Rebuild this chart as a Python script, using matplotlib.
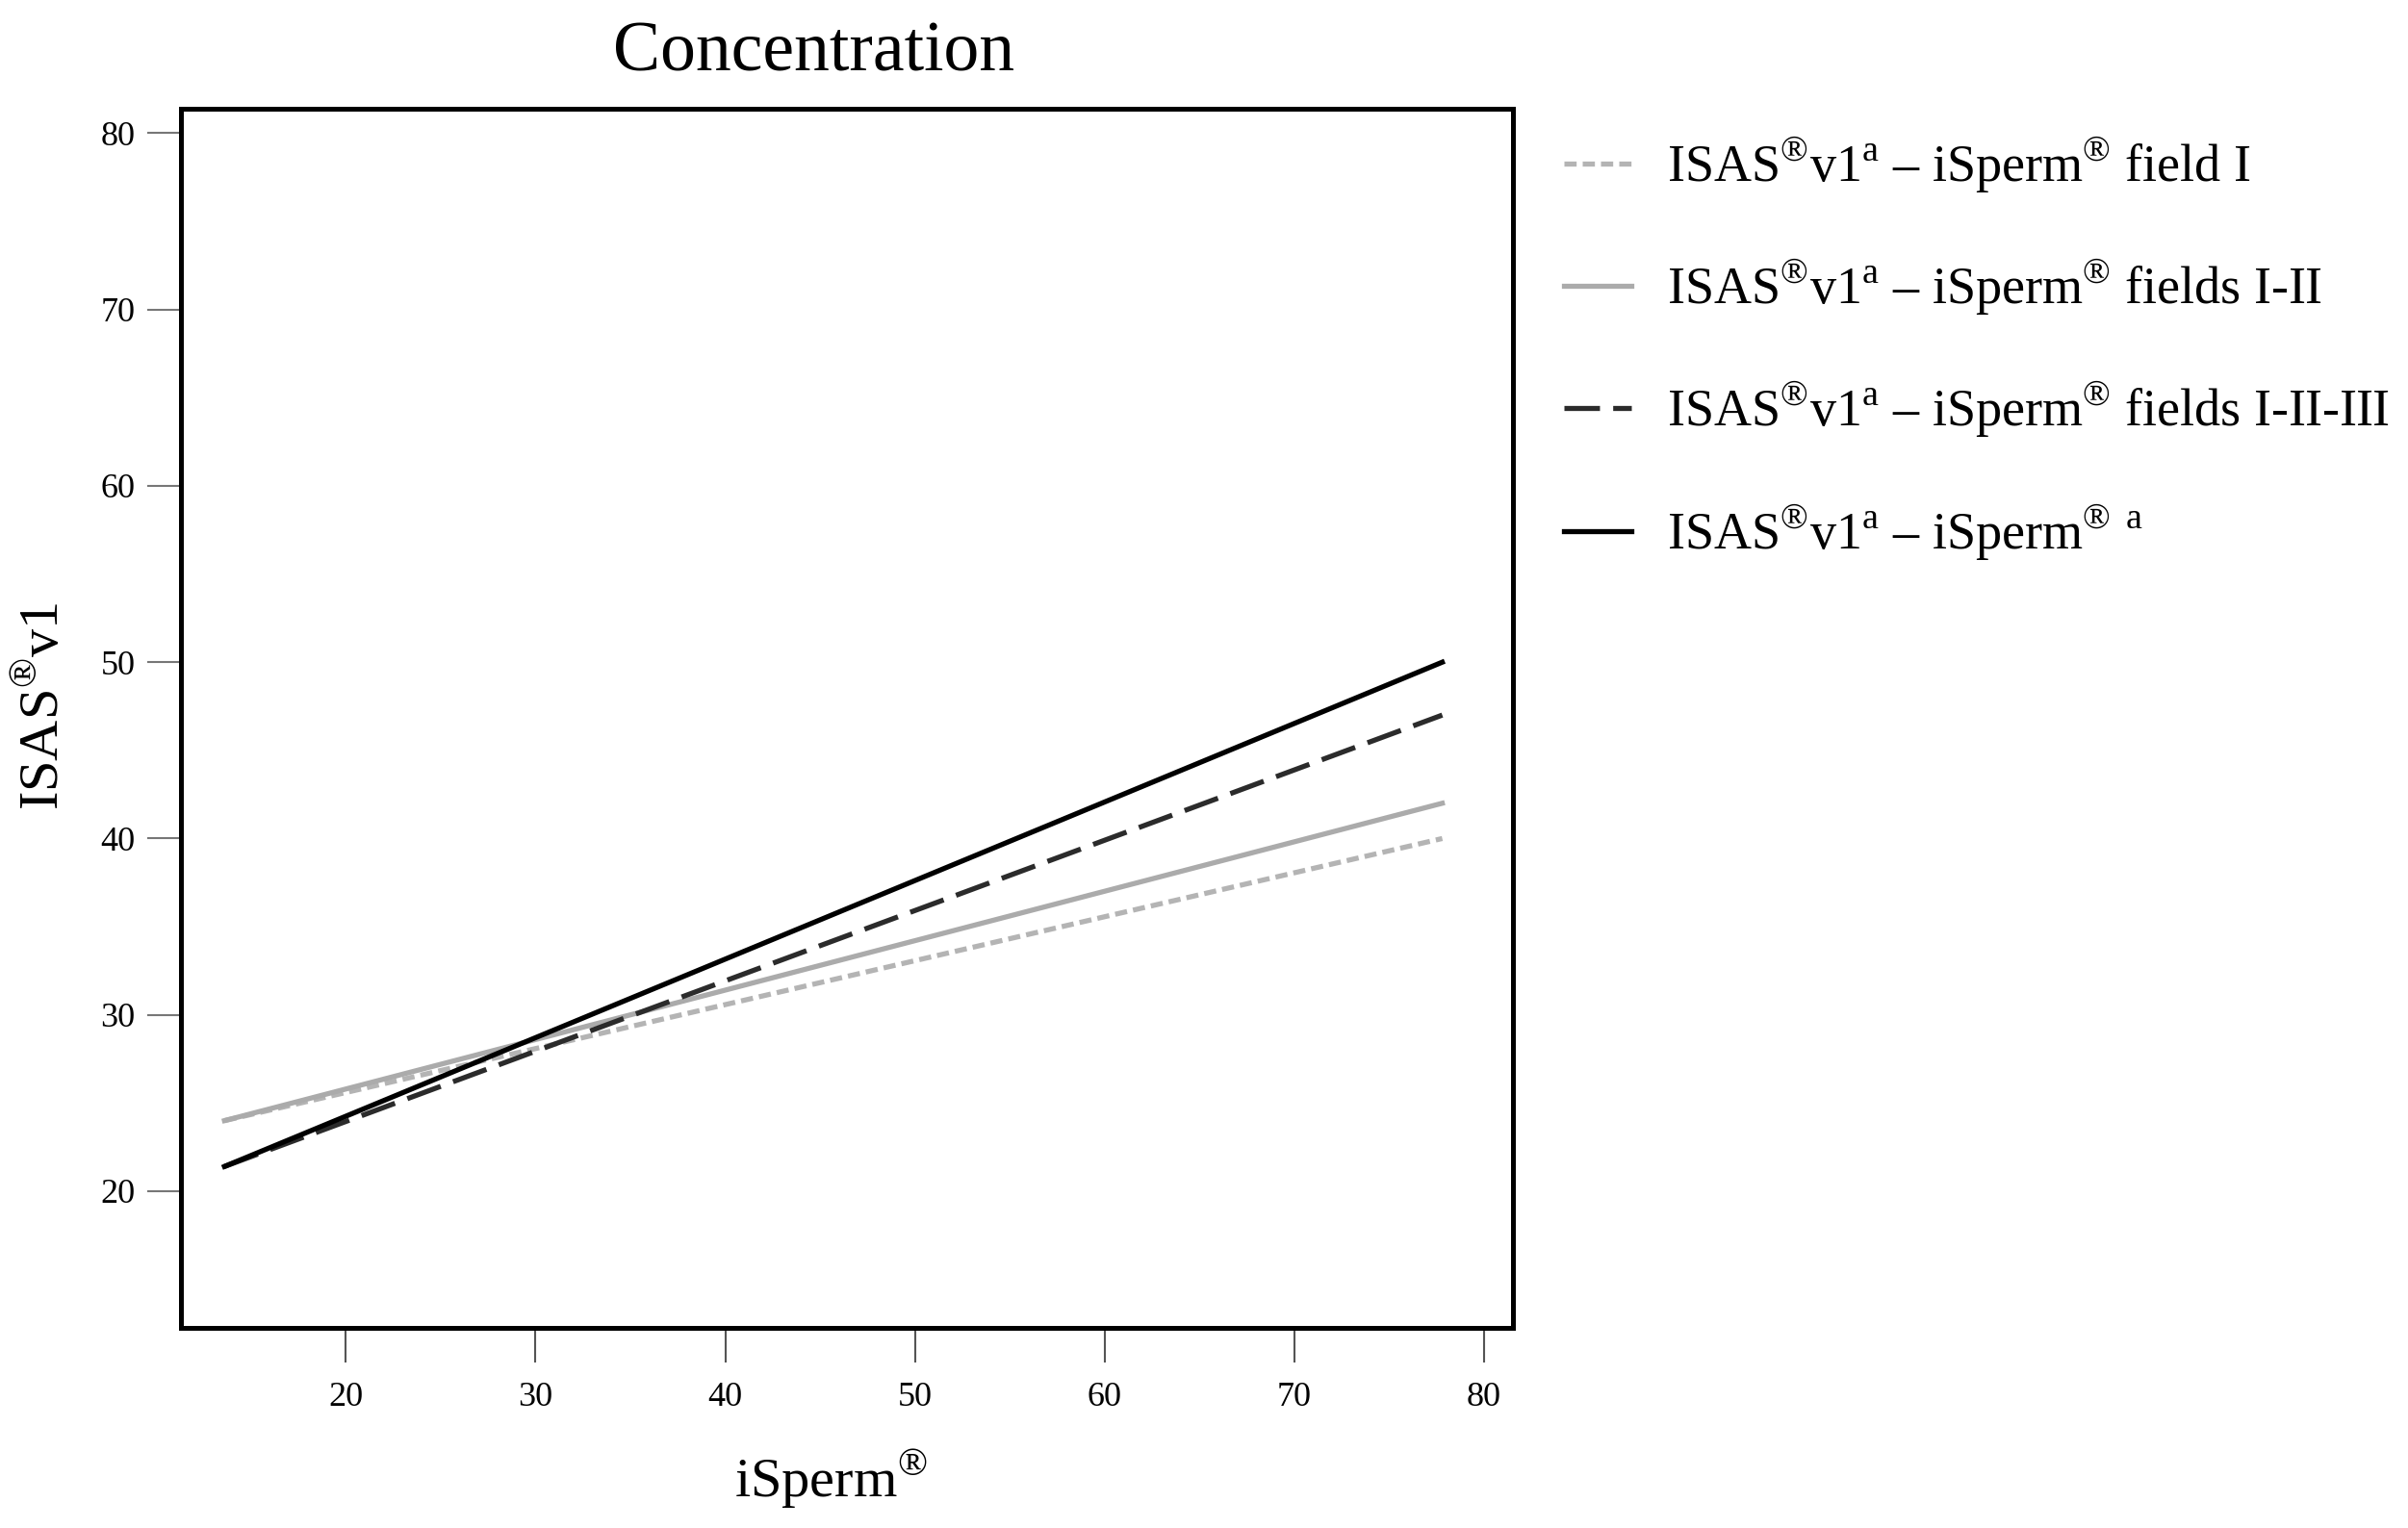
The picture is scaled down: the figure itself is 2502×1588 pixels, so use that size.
import matplotlib
matplotlib.use('Agg')
import matplotlib.pyplot as plt

plt.rcParams['font.family'] = ['Liberation Serif', 'DejaVu Serif']
plt.rcParams['mathtext.fontset'] = 'custom'
plt.rcParams['mathtext.rm'] = 'Liberation Serif'

# fitted regression lines
x_ends = [13.6, 77.8]
field_I = [24.0, 40.0]
fields_I_II = [24.0, 42.0]
fields_I_II_III = [21.4, 47.0]
isperm_a = [21.4, 50.0]

labels = [r'ISAS$^{\mathrm{®}}$v1$^{\mathrm{a}}$ – iSperm$^{\mathrm{®}}$ field I',
          r'ISAS$^{\mathrm{®}}$v1$^{\mathrm{a}}$ – iSperm$^{\mathrm{®}}$ fields I-II',
          r'ISAS$^{\mathrm{®}}$v1$^{\mathrm{a}}$ – iSperm$^{\mathrm{®}}$ fields I-II-III',
          r'ISAS$^{\mathrm{®}}$v1$^{\mathrm{a}}$ – iSperm$^{\mathrm{®}}$ $^{\mathrm{a}}$']

xticks = [20, 30, 40, 50, 60, 70, 80]
yticks = [20, 30, 40, 50, 60, 70, 80]

fig = plt.figure(figsize=(25.02, 15.88), dpi=100)
ax = fig.add_axes([0.0751, 0.131, 0.553, 0.798])

lw = 3.8
ax.plot(x_ends, field_I, color='#b4b4b4', lw=lw, dashes=(2.4, 1.2), label=labels[0])
ax.plot(x_ends, fields_I_II, color='#ababab', lw=lw, label=labels[1])
ax.plot(x_ends, fields_I_II_III, color='#2b2b2b', lw=lw, dashes=(7, 2.6), label=labels[2])
ax.plot(x_ends, isperm_a, color='black', lw=lw, label=labels[3])

ax.set_xlim(11.3, 81.5)
ax.set_ylim(12.25, 81.4)
ax.set_xticks(xticks)
ax.set_yticks(yticks)
for s in ax.spines.values():
    s.set_linewidth(3.6)
ax.tick_params(axis='x', length=26, width=1.5, color='#555555', pad=14, labelsize=26)
ax.tick_params(axis='y', length=25, width=1.5, color='#777777', pad=9, labelsize=26)

fig.text(0.338, 0.965, 'Concentration', fontsize=53, ha='center', va='center')
fig.text(0.345, 0.032, r'iSperm$^{\mathrm{®}}$', fontsize=42, ha='center', va='center')
fig.text(0.018, 0.538, r'ISAS$^{\mathrm{®}}$v1', fontsize=42, ha='center', va='center',
         rotation=90)

ax.legend(loc='upper left', bbox_to_anchor=(0.63, 0.942), bbox_transform=fig.transFigure,
          frameon=False, fontsize=39, handlelength=1.3, handletextpad=0.68,
          labelspacing=1.2)

fig.savefig('out.png', dpi=100)
